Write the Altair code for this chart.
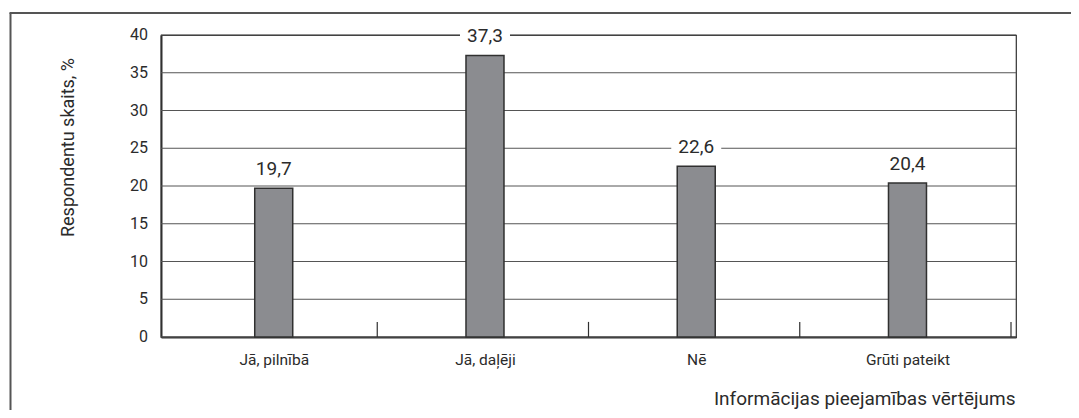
import altair as alt
import pandas as pd

categories = ["Jā, pilnībā", "Jā, daļēji", "Nē", "Grūti pateikt"]
values = [19.7, 37.3, 22.6, 20.4]
y_ticks = [0, 5, 10, 15, 20, 25, 30, 35, 40]
separators = [1, 2, 3, 4]

FONT = "Roboto"
TXT = "#2b2b2b"

df = pd.DataFrame({
    "cat": categories,
    "value": values,
    "pos": [i + 0.51 for i in range(len(categories))],
    "label": [f"{v:.1f}".replace(".", ",") for v in values],
})
sep_df = pd.DataFrame({"pos": separators, "value": [0] * len(separators), "y1": [2] * len(separators)})
tick_df = pd.DataFrame({"value": y_ticks, "tlabel": [str(t) for t in y_ticks]})
one = pd.DataFrame({"a": [0]})

W, H = 855, 302

label_expr = "[" + ",".join(f"'{c}'" for c in categories) + "][floor(datum.value)]"

xscale = alt.Scale(domain=[0, 4], nice=False, zero=False)
yscale = alt.Scale(domain=[0, 40], nice=False)

xaxis = alt.Axis(
    values=[i + 0.51 for i in range(len(categories))],
    labelExpr=label_expr,
    title="Informācijas pieejamības vērtējums",
    titleX=W - 1, titleY=61, titleAlign="right", titleAnchor="end",
    titleBaseline="middle", titleFont=FONT, titleFontSize=19, titleFontWeight="normal",
    titleColor=TXT,
    labelFont=FONT, labelFontSize=15.5, labelColor=TXT, labelPadding=15,
    labelOverlap=False,
    ticks=False, grid=False, domainColor="#303030", domainWidth=2,
)
yaxis = alt.Axis(
    title="Respondentu skaits, %",
    titleX=-93, titleY=112, titleAngle=-90, titleAlign="center", titleBaseline="middle",
    titleFont=FONT, titleFontSize=18, titleFontWeight="normal", titleColor=TXT,
    labels=False, ticks=False, grid=False,
    domainColor="#303030", domainWidth=2,
)

X = alt.X("pos:Q", scale=xscale, axis=xaxis)
Y = alt.Y("value:Q", scale=yscale, axis=yaxis)

base = alt.Chart(df)

grid = alt.Chart(tick_df).mark_rule(color="#555555", strokeWidth=1).encode(
    y=Y, x=alt.value(0), x2=alt.value(W)
)
ytick_labels = alt.Chart(tick_df).mark_text(
    align="right", baseline="middle", font=FONT, fontSize=16, color=TXT
).encode(y=Y, x=alt.value(-13), text="tlabel:N")

bars = base.mark_bar(size=38, fill="#8b8c90", stroke="#303030", strokeWidth=1.5).encode(x=X, y=Y)

seps = alt.Chart(sep_df).mark_rule(color="#303030", strokeWidth=1.2).encode(
    x=X, y=Y, y2="y1:Q",
)

label_bg = base.mark_point(
    shape="M-1,-0.4L1,-0.4L1,0.4L-1,0.4Z", filled=True, fill="white", opacity=1,
    strokeWidth=0, size=2500, yOffset=-19,
).encode(x=X, y=Y)

labels = base.mark_text(dy=-19, baseline="middle", align="center", font=FONT,
                        fontSize=19, color=TXT).encode(x=X, y=Y, text="label:N")

border_left = alt.Chart(one).mark_rule(color="#555555", strokeWidth=2).encode(
    x=alt.value(-150.5), y=alt.value(-22), y2=alt.value(H + 80)
)
border_top = alt.Chart(one).mark_rule(color="#555555", strokeWidth=2).encode(
    x=alt.value(-151.5), x2=alt.value(W + 60), y=alt.value(-22)
)

chart = alt.layer(grid, ytick_labels, bars, seps, label_bg, labels, border_left, border_top).properties(
    width=W, height=H,
    background="white",
    autosize=alt.AutoSizeParams(type="none"),
    padding={"left": 153, "top": 27, "right": 55, "bottom": 73},
).configure_view(stroke="#303030", strokeWidth=1.2)

chart.save("out.html", embed_options={"renderer": "svg", "actions": False})
